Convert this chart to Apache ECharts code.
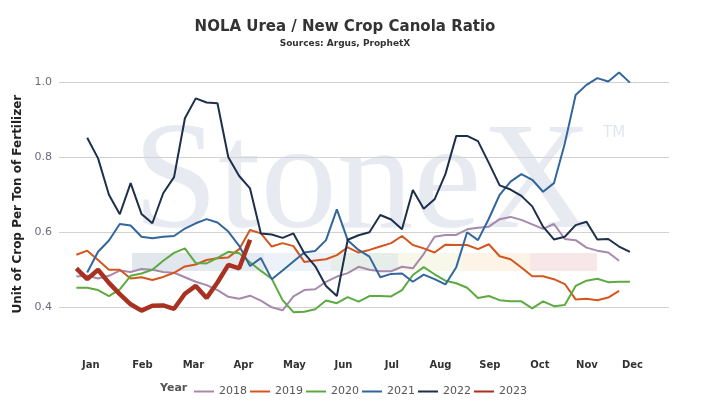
<!DOCTYPE html>
<html><head><meta charset="utf-8">
<script src="https://cdn.jsdelivr.net/npm/echarts@6/dist/echarts.min.js"></script>
<style>html,body{margin:0;padding:0;background:#fff}#c{width:710px;height:414px}</style>
</head><body><div id="c"></div>
<script>
// ---- data ----
const years = ['2018', '2019', '2020', '2021', '2022', '2023'];
const firstWeek = [1, 1, 1, 2, 2, 1];
const v2018 = [0.482,0.485,0.477,0.484,0.498,0.494,0.502,0.500,0.494,0.492,
  0.480,0.468,0.459,0.446,0.428,0.423,0.431,0.418,0.400,0.392,
  0.429,0.446,0.448,0.468,0.482,0.491,0.508,0.500,0.496,0.496,
  0.508,0.504,0.542,0.588,0.593,0.593,0.608,0.612,0.615,0.635,
  0.641,0.633,0.621,0.609,0.622,0.582,0.579,0.559,0.551,0.546,0.524];
const v2019 = [0.540,0.551,0.526,0.500,0.500,0.477,0.480,0.473,0.481,0.492,
  0.509,0.514,0.526,0.531,0.533,0.555,0.606,0.597,0.562,0.571,
  0.563,0.521,0.525,0.528,0.539,0.560,0.546,0.553,0.562,0.571,
  0.590,0.566,0.557,0.546,0.567,0.566,0.566,0.555,0.568,0.536,
  0.528,0.506,0.483,0.483,0.475,0.462,0.421,0.423,0.419,0.426,0.444];
const v2020 = [0.452,0.452,0.446,0.430,0.448,0.484,0.490,0.500,0.524,0.545,
  0.557,0.518,0.517,0.532,0.548,0.544,0.520,0.497,0.476,0.419,
  0.387,0.388,0.395,0.418,0.411,0.427,0.415,0.430,0.430,0.429,
  0.446,0.486,0.507,0.488,0.471,0.464,0.452,0.425,0.430,0.419,
  0.416,0.416,0.397,0.416,0.403,0.406,0.457,0.471,0.476,0.467,0.468,0.468];
const v2021 = [0.493,0.548,0.578,0.622,0.618,0.588,0.584,0.588,0.590,0.610,
  0.624,0.635,0.626,0.602,0.564,0.510,0.531,0.475,0.498,0.522,
  0.546,0.550,0.579,0.661,0.579,0.553,0.535,0.480,0.489,0.490,
  0.468,0.487,0.475,0.461,0.507,0.600,0.579,0.636,0.700,0.735,
  0.755,0.740,0.708,0.731,0.837,0.966,0.993,1.011,1.002,1.026,0.999];
const v2022 = [0.852,0.797,0.700,0.648,0.731,0.649,0.624,0.704,0.747,0.904,
  0.957,0.946,0.944,0.800,0.750,0.717,0.597,0.594,0.585,0.597,
  0.544,0.510,0.457,0.430,0.580,0.592,0.600,0.646,0.634,0.608,
  0.713,0.663,0.688,0.755,0.857,0.857,0.843,0.785,0.725,0.714,
  0.697,0.669,0.615,0.581,0.588,0.619,0.628,0.581,0.582,0.562,0.548];
const v2023 = [0.504,0.475,0.500,0.465,0.435,0.408,0.391,0.404,0.405,0.396,
  0.436,0.457,0.425,0.466,0.513,0.504,0.580];
const months = ['Jan','Feb','Mar','Apr','May','Jun','Jul','Aug','Sep','Oct','Nov','Dec'];
const monthWeeks = [2.34,7.09,11.79,16.40,21.09,25.61,30.07,34.54,39.10,43.71,48.04,52.24];
const yLabels = [0.4, 0.6, 0.8, 1.0];

// ---- styles ----
const values = [v2018, v2019, v2020, v2021, v2022, v2023];
const colors = ['#a689ad', '#d4561f', '#5cab41', '#33669c', '#1d2f4b', '#a8311f'];
const widths = [2, 2, 2, 2, 2, 4.5];
const FONT = 'DejaVu Sans, Verdana, sans-serif';

const series = years.map((y, k) => ({
  name: y,
  type: 'line',
  showSymbol: false,
  symbol: 'none',
  smooth: false,
  color: colors[k],
  lineStyle: { width: widths[k], color: colors[k] },
  data: values[k].map((v, i) => [firstWeek[k] + i, v]),
  z: 2 + k
}));

const bandX = [132, 198, 264, 331, 398, 463, 530, 597];
const bandColors = ['#e2e6ed', '#e5e9f0', '#edf2f8', '#e7eee9', '#f8f8ea', '#fdf3e6', '#f7e7e9'];
const graphics = [
  { type: 'text', z: -5, silent: true,
    style: { text: 'StoneX', x: 133, y: 187, font: '153px "Liberation Serif", "DejaVu Serif", serif',
      fill: '#e7eaf0', textAlign: 'left', textVerticalAlign: 'middle' } },
  { type: 'text', z: -5, silent: true,
    style: { text: 'TM', x: 603, y: 133, font: '15px ' + FONT, fill: '#e2e6ec', textVerticalAlign: 'middle' } },
  { type: 'text', silent: true,
    style: { text: 'NOLA Urea / New Crop Canola Ratio', x: 345, y: 27, font: 'bold 15px ' + FONT,
      fill: '#333333', textAlign: 'center', textVerticalAlign: 'middle' } },
  { type: 'text', silent: true,
    style: { text: 'Sources: Argus, ProphetX', x: 345, y: 44, font: 'bold 9px ' + FONT,
      fill: '#333333', textAlign: 'center', textVerticalAlign: 'middle' } },
  { type: 'text', silent: true,
    style: { text: 'Year', x: 160, y: 388, font: 'bold 11px ' + FONT,
      fill: '#555555', textAlign: 'left', textVerticalAlign: 'middle' } }
];
for (let i = 0; i < bandColors.length; i++) {
  graphics.push({ type: 'rect', z: -5, silent: true,
    shape: { x: bandX[i], y: 253, width: bandX[i + 1] - bandX[i], height: 18 },
    style: { fill: bandColors[i] } });
}

const chart = echarts.init(document.getElementById('c'), null, { renderer: 'canvas' });
chart.setOption({
  animation: false,
  backgroundColor: '#ffffff',
  grid: { left: 59, right: 41, top: 63.5, bottom: 69.2, containLabel: false },
  graphic: graphics,
  legend: {
    data: years, left: 189, top: 381, icon: 'rect', itemWidth: 20, itemHeight: 2, itemGap: 3,
    textStyle: { fontFamily: FONT, fontSize: 11, color: '#555555' }
  },
  xAxis: {
    type: 'value', min: -0.6, max: 55.6,
    axisLine: { show: false }, axisTick: { show: false }, splitLine: { show: false },
    axisLabel: {
      customValues: monthWeeks, margin: 16,
      fontFamily: FONT, fontSize: 10, fontWeight: 'bold', color: '#333333',
      formatter: function (v) {
        let best = 0;
        for (let i = 1; i < monthWeeks.length; i++) {
          if (Math.abs(monthWeeks[i] - v) < Math.abs(monthWeeks[best] - v)) best = i;
        }
        return months[best];
      }
    }
  },
  yAxis: {
    type: 'value', min: 0.3, max: 1.05, interval: 0.1,
    name: 'Unit of Crop Per Ton of Fertilizer', nameLocation: 'middle', nameGap: 27,
    nameTextStyle: { fontFamily: FONT, fontSize: 12, fontWeight: 'bold', color: '#222222' },
    axisLine: { show: false }, axisTick: { show: false },
    splitLine: { show: true, showMinLine: false, showMaxLine: false,
      lineStyle: { color: ['#d2d2d2', 'rgba(0,0,0,0)'], width: 1 } },
    axisLabel: {
      margin: 7, fontFamily: FONT, fontSize: 11, color: '#6b6b7d',
      formatter: function (v) {
        for (const t of yLabels) { if (Math.abs(t - v) < 1e-6) return t.toFixed(1); }
        return '';
      }
    }
  },
  series: series
});
</script></body></html>
